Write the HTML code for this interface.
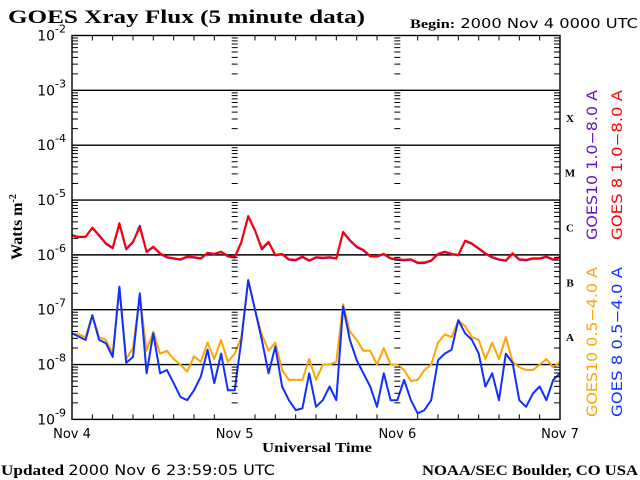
<!DOCTYPE html>
<html><head><meta charset="utf-8"><style>
body{margin:0;background:#fff}
svg{display:block}
text{font-family:"DejaVu Sans","Liberation Sans",sans-serif}
.serif{font-family:"Liberation Serif",serif;font-weight:bold}
</style></head><body>
<svg id="chart" width="640" height="480" viewBox="0 0 640 480" xmlns="http://www.w3.org/2000/svg">
<text class="serif" x="8" y="23" font-size="19" textLength="357" lengthAdjust="spacingAndGlyphs">GOES Xray Flux (5 minute data)</text>
<text x="410" y="28" font-size="13" textLength="228" lengthAdjust="spacingAndGlyphs"><tspan class="serif">Begin:</tspan>  2000 Nov 4 0000 UTC</text>
<text class="serif" x="1" y="475" font-size="15" textLength="274" lengthAdjust="spacingAndGlyphs">Updated <tspan font-family="DejaVu Sans" font-weight="normal" font-size="14">2000 Nov  6 23:59:05 UTC</tspan></text>
<text class="serif" x="422" y="475" font-size="15" textLength="216" lengthAdjust="spacingAndGlyphs">NOAA/SEC Boulder, CO USA</text>
<text class="serif" x="262" y="452" font-size="14" textLength="110" lengthAdjust="spacingAndGlyphs">Universal Time</text>
<text class="serif" x="22" y="227" font-size="16" text-anchor="middle" transform="rotate(-90 22 227)">Watts m<tspan font-size="10" dy="-6">-2</tspan></text>
<g id="grid"></g><g id="series"></g><g id="axes"></g>
<text x="597" y="240" font-size="14" fill="#6a0dcc" textLength="150" lengthAdjust="spacingAndGlyphs" transform="rotate(-90 597 240)">GOES10 1.0−8.0 A</text>
<text x="622" y="240" font-size="14" fill="#ff0000" textLength="150" lengthAdjust="spacingAndGlyphs" transform="rotate(-90 622 240)">GOES 8 1.0−8.0 A</text>
<text x="597" y="417" font-size="14" fill="#ffa500" textLength="150" lengthAdjust="spacingAndGlyphs" transform="rotate(-90 597 417)">GOES10 0.5−4.0 A</text>
<text x="622" y="417" font-size="14" fill="#1030ff" textLength="150" lengthAdjust="spacingAndGlyphs" transform="rotate(-90 622 417)">GOES 8 0.5−4.0 A</text>
</svg>
<script>
const dayLabels=["Nov 4","Nov 5","Nov 6","Nov 7"];
const decadeExps=[-2,-3,-4,-5,-6,-7,-8,-9];
const flareClasses=["X","M","C","B","A"];
const goes8Long=[-5.64,-5.67,-5.67,-5.5,-5.64,-5.79,-5.87,-5.42,-5.89,-5.76,-5.5,-5.94,-5.85,-5.97,-6.04,-6.06,-6.08,-6.03,-6.04,-6.06,-5.96,-5.98,-5.94,-6.02,
-6.04,-5.76,-5.29,-5.55,-5.88,-5.76,-6.0,-5.98,-6.08,-6.09,-6.03,-6.1,-6.04,-6.05,-6.04,-6.06,-5.58,-5.73,-5.85,-5.91,-6.02,-6.02,-5.98,-6.06,
-6.08,-6.09,-6.08,-6.14,-6.14,-6.1,-5.98,-5.94,-5.98,-6.0,-5.74,-5.79,-5.88,-5.97,-6.04,-6.08,-6.1,-5.97,-6.08,-6.09,-6.06,-6.06,-6.03,-6.08,-6.04];
const goes10Long=[-5.65,-5.68,-5.67,-5.51,-5.65,-5.8,-5.88,-5.44,-5.9,-5.77,-5.47,-5.95,-5.86,-5.98,-6.05,-6.07,-6.09,-6.04,-6.05,-6.07,-5.97,-5.99,-5.95,-6.03,
-6.05,-5.77,-5.3,-5.56,-5.9,-5.77,-6.01,-5.99,-6.09,-6.1,-6.04,-6.11,-6.05,-6.06,-6.05,-6.07,-5.59,-5.74,-5.86,-5.92,-6.03,-6.03,-5.99,-6.07,
-6.09,-6.1,-6.09,-6.15,-6.15,-6.11,-5.99,-5.95,-5.99,-6.01,-5.75,-5.8,-5.89,-5.98,-6.05,-6.09,-6.11,-5.98,-6.09,-6.1,-6.07,-6.07,-6.04,-6.09,-6.05];
const goes8Short=[-7.43,-7.49,-7.55,-7.1,-7.55,-7.61,-7.86,-6.58,-7.97,-7.86,-6.7,-8.16,-7.43,-8.16,-8.1,-8.34,-8.59,-8.65,-8.47,-8.22,-7.73,-8.34,-7.8,-8.47,
-8.47,-7.55,-6.46,-7.0,-7.55,-8.16,-7.67,-8.4,-8.65,-8.83,-8.8,-8.16,-8.77,-8.65,-8.4,-8.65,-6.94,-7.55,-7.92,-8.16,-8.4,-8.77,-8.16,-8.65,
-8.65,-8.28,-8.65,-8.89,-8.83,-8.65,-7.92,-7.8,-7.73,-7.19,-7.43,-7.55,-7.8,-8.4,-8.16,-8.65,-7.8,-7.97,-8.65,-8.77,-8.53,-8.4,-8.65,-8.28,-8.16];
const goes10Short=[-7.43,-7.45,-7.5,-7.1,-7.5,-7.55,-7.8,-6.6,-7.9,-7.7,-6.75,-7.75,-7.4,-7.8,-7.75,-7.9,-8.0,-8.13,-7.85,-7.95,-7.6,-7.9,-7.55,-7.95,
-7.8,-7.5,-6.46,-7.0,-7.45,-7.75,-7.6,-8.1,-8.28,-8.28,-8.28,-7.9,-8.28,-8.0,-8.0,-7.95,-6.9,-7.4,-7.55,-7.75,-7.75,-8.0,-7.7,-8.0,
-8.0,-8.1,-8.3,-8.28,-8.1,-8.0,-7.6,-7.45,-7.5,-7.2,-7.3,-7.5,-7.55,-7.9,-7.6,-7.9,-7.5,-7.95,-8.05,-8.1,-8.1,-8.0,-7.9,-8.05,-7.95];

const NS="http://www.w3.org/2000/svg";
const L=72,R=560,T=35.5,B=419.4;
const hours=72;
const xs=h=>L+(R-L)*h/hours;
const ys=e=>T+(B-T)*(-2-e)/7;
function mk(tag,attrs,parent){const el=document.createElementNS(NS,tag);for(const k in attrs)el.setAttribute(k,attrs[k]);parent.appendChild(el);return el;}
const grid=document.getElementById('grid'),axes=document.getElementById('axes'),ser=document.getElementById('series');

decadeExps.forEach(e=>{
  const y=ys(e);
  if(e<-2&&e>-9){const ln=mk('line',{x1:L,x2:R,y1:y,y2:y,stroke:'#000','stroke-width':1.4},grid);
    
    }
  const t=mk('text',{x:L-6,y:y+5,'font-size':14,'text-anchor':'end'},axes);
  
  
  t.innerHTML='10<tspan font-size="11" dy="-8">'+e+'</tspan>';
  if(e>-9)for(let k=2;k<=9;k++){
    const ym=ys(e-1+Math.log10(k));
    let d=`M${L} ${ym}h6M${R} ${ym}h-6`;
    [1,2].forEach(i=>{const xd=xs(24*i);d+=`M${xd-3} ${ym}h6`;});
    mk('path',{d:d,stroke:'#000','stroke-width':1},axes);
  }
});
const fr=mk('rect',{x:L,y:T,width:R-L,height:B-T,fill:'none',stroke:'#000','stroke-width':1.4},axes);


for(let h=3;h<hours;h+=3){const x=xs(h);const len=h%24===0?0:5;
  mk('path',{d:`M${x} ${T}v${len}M${x} ${B}v${-len}`,stroke:'#000','stroke-width':1},axes);}
dayLabels.forEach((d,i)=>{const t=mk('text',{x:xs(24*i),y:438,'font-size':13,'text-anchor':'middle'},axes);
  
  
  t.textContent=d;});
flareClasses.forEach((c,i)=>{const t=mk('text',{x:570,y:ys(-3.5-i)+4,'font-size':11,'text-anchor':'middle',class:'serif'},axes);
  
  
  t.textContent=c;});
function line(vals,color,name){
  const step=hours/(vals.length-1);
  let d='';
  vals.forEach((v,i)=>{d+=(i?'L':'M')+xs(i*step).toFixed(1)+' '+ys(v).toFixed(1);});
  const p=mk('path',{d:d,fill:'none',stroke:color,'stroke-width':2,'stroke-linejoin':'round'},ser);
  
  
}
line(goes10Short,'#ffa500','series-goes10-short');
line(goes8Short,'#1030ff','series-goes8-short');
line(goes10Long,'#6a0dcc','series-goes10-long');
line(goes8Long,'#ff0000','series-goes8-long');
</script>
</body></html>
